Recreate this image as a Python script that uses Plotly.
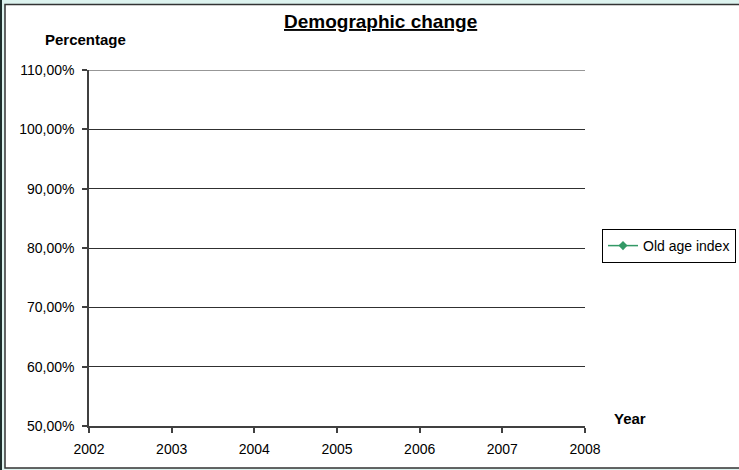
import plotly.graph_objects as go

# ---- data ----
years = [2002, 2003, 2004, 2005, 2006, 2007, 2008]
old_age_index = [None, None, None, None, None, None, None]  # no visible points in the reference
y_tick_vals = [0.5, 0.6, 0.7, 0.8, 0.9, 1.0, 1.1]
y_tick_text = ["50,00%", "60,00%", "70,00%", "80,00%", "90,00%", "100,00%", "110,00%"]
series_name = "Old age index"

W, H = 739, 470
L, R, T, B = 89, 585, 70, 426  # plot area pixel bounds
pw, ph = R - L, B - T


def px_x(x):
    return (x - L) / pw


def px_y(y):
    return (B - y) / ph


fig = go.Figure()
fig.add_trace(go.Scatter(
    x=years, y=old_age_index, name=series_name, mode="lines+markers",
    line=dict(color="#339966", width=1.5),
    marker=dict(symbol="diamond", size=7, color="#339966"),
    showlegend=True, connectgaps=False,
))

font_family = "Liberation Sans, Arial, sans-serif"

fig.update_layout(
    width=W, height=H,
    margin=dict(l=L, r=W - R, t=T, b=H - B, pad=0, autoexpand=False),
    paper_bgcolor="#ddf3ef",
    plot_bgcolor="white",
    font=dict(family=font_family, size=14, color="black"),
    showlegend=True,
    legend=dict(
        x=px_x(602), y=px_y(246), xanchor="left", yanchor="middle",
        bordercolor="black", borderwidth=1, bgcolor="white",
        font=dict(size=14, family=font_family),
    ),
    xaxis=dict(
        range=[2002, 2008], tickmode="array", tickvals=years,
        ticktext=[str(y) for y in years],
        showgrid=False, zeroline=False, showline=True, linecolor="#404040", linewidth=1.5,
        ticks="outside", ticklen=5, tickcolor="#404040", tickwidth=1.5,
        tickfont=dict(size=14), ticklabelstandoff=4,
    ),
    yaxis=dict(
        range=[0.5, 1.1], tickmode="array", tickvals=y_tick_vals, ticktext=y_tick_text,
        showgrid=True, gridcolor="#303030", gridwidth=1.2, zeroline=False,
        showline=True, linecolor="#404040", linewidth=1.5,
        ticks="outside", ticklen=5, tickcolor="#404040", tickwidth=1.5,
        tickfont=dict(size=14), ticklabelstandoff=5,
    ),
    shapes=[
        dict(type="rect", xref="paper", yref="paper", layer="below",
             x0=px_x(5), x1=px_x(750), y0=px_y(4.5), y1=px_y(468),
             fillcolor="white", line=dict(color="#333333", width=1.5)),
        dict(type="rect", xref="paper", yref="paper", layer="below",
             x0=px_x(0), x1=px_x(2), y0=px_y(0), y1=px_y(470),
             fillcolor="#1e2e2c", line=dict(width=0)),
        # top gridline at 110%
        dict(type="line", xref="paper", yref="y", x0=0, x1=1, y0=1.1, y1=1.1,
             line=dict(color="#303030", width=1.2)),
    ],
    annotations=[
        dict(text="<b><u>Demographic change</u></b>", x=px_x(380), y=px_y(22),
             xref="paper", yref="paper", xanchor="center", yanchor="middle",
             showarrow=False, font=dict(size=19, family=font_family)),
        dict(text="<b>Percentage</b>", x=px_x(85), y=px_y(39),
             xref="paper", yref="paper", xanchor="center", yanchor="middle",
             showarrow=False, font=dict(size=15, family=font_family)),
        dict(text="<b>Year</b>", x=px_x(630), y=px_y(418),
             xref="paper", yref="paper", xanchor="center", yanchor="middle",
             showarrow=False, font=dict(size=15, family=font_family)),
    ],
)

fig.write_html("out.html")
